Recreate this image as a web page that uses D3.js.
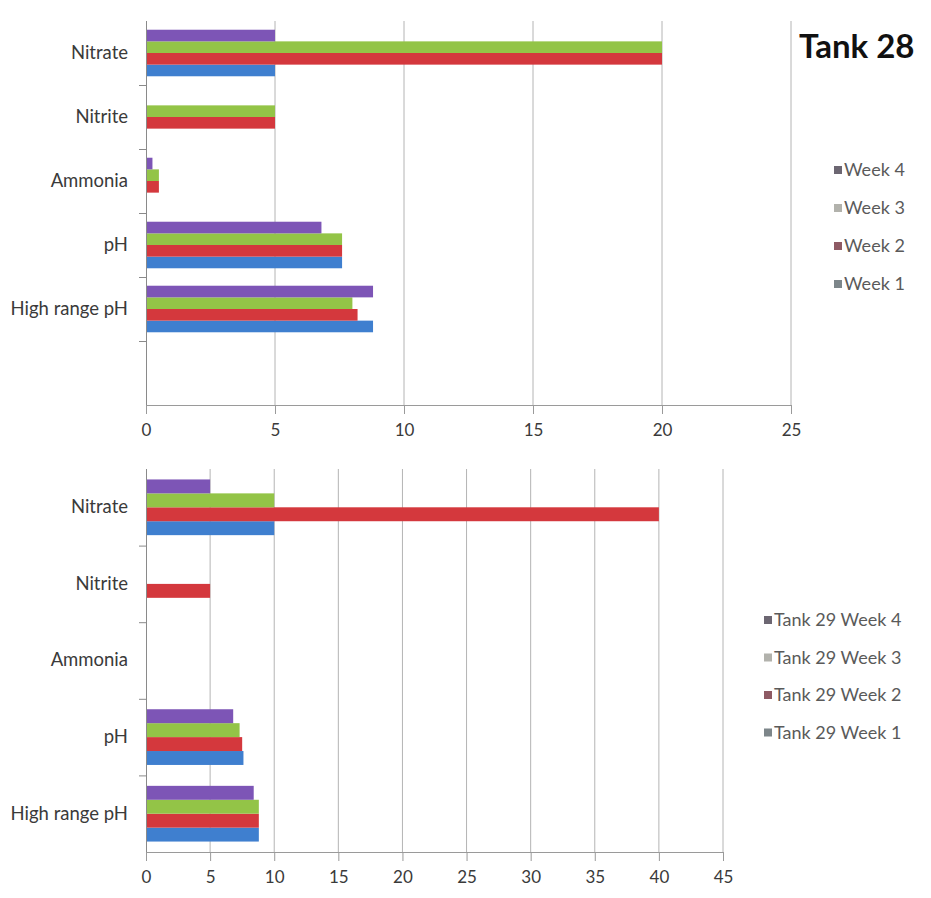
<!DOCTYPE html>
<html>
<head>
<meta charset="utf-8">
<script src="https://cdn.jsdelivr.net/npm/d3@7/dist/d3.min.js"></script>
<style>
  html, body { margin: 0; padding: 0; background: #ffffff; }
  svg { display: block; }
  text { font-family: Lato, "Open Sans", "DejaVu Sans", sans-serif; }
</style>
</head>
<body>
<svg id="chart" width="931" height="898"></svg>
<script>
// Water-test readings per tank, one array per weekly reading.
const parameters = ["Nitrate", "Nitrite", "Ammonia", "pH", "High range pH"];

const tank28Week1 = [5, 0, 0, 7.6, 8.8];
const tank28Week2 = [20, 5, 0.5, 7.6, 8.2];
const tank28Week3 = [20, 5, 0.5, 7.6, 8.0];
const tank28Week4 = [5, 0, 0.25, 6.8, 8.8];

const tank29Week1 = [10, 0, 0, 7.6, 8.8];
const tank29Week2 = [40, 5, 0, 7.5, 8.8];
const tank29Week3 = [10, 0, 0, 7.3, 8.8];
const tank29Week4 = [5, 0, 0, 6.8, 8.4];

const tank28Labels = ["Week 1", "Week 2", "Week 3", "Week 4"];
const tank29Labels = ["Tank 29 Week 1", "Tank 29 Week 2", "Tank 29 Week 3", "Tank 29 Week 4"];

const tank28Ticks = [0, 5, 10, 15, 20, 25];
const tank29Ticks = [0, 5, 10, 15, 20, 25, 30, 35, 40, 45];

const seriesColors = ["#3f7fcf", "#d4383d", "#93c447", "#7d55b6"];
const legendSwatches = ["#7d868a", "#8e5a64", "#b2b2ac", "#6c6672"];

const svg = d3.select("#chart");

function drawChart(opts) {
  const g = svg.append("g");
  const series = opts.labels.map((label, i) => ({ label, values: opts.values[i], color: seriesColors[i], swatch: legendSwatches[i] }));

  const x = d3.scaleLinear()
    .domain([0, opts.ticks[opts.ticks.length - 1]])
    .range([opts.left, opts.right]);

  const y = d3.scaleBand()
    .domain(opts.categories)
    .range([opts.top, opts.bottom])
    .padding(0);

  // Week 4 sits on top of each cluster, Week 1 at the bottom.
  const inner = d3.scaleBand()
    .domain(opts.labels.slice().reverse())
    .range([0, y.bandwidth()])
    .paddingInner(0)
    .paddingOuter(0.75);

  // Vertical gridlines
  g.append("g")
    .selectAll("line")
    .data(opts.ticks.slice(1))
    .join("line")
    .attr("x1", d => x(d)).attr("x2", d => x(d))
    .attr("y1", opts.top).attr("y2", opts.bottom)
    .attr("stroke", "#b4b4b4")
    .attr("stroke-width", 1);

  // Bars
  const rows = [];
  series.forEach(s => {
    parameters.forEach((p, j) => {
      rows.push({ category: p, series: s.label, value: s.values[j], color: s.color });
    });
  });
  g.append("g")
    .selectAll("rect")
    .data(rows.filter(r => r.value > 0))
    .join("rect")
    .attr("x", x(0))
    .attr("y", d => y(d.category) + inner(d.series))
    .attr("width", d => x(d.value) - x(0))
    .attr("height", inner.bandwidth())
    .attr("fill", d => d.color);

  // Value axis along the bottom
  const xAxis = d3.axisBottom(x)
    .tickValues(opts.ticks)
    .tickSize(9)
    .tickPadding(10)
    .tickFormat(d3.format("d"));
  const xg = g.append("g")
    .attr("transform", `translate(0,${opts.bottom})`)
    .call(xAxis);
  xg.select(".domain").attr("stroke", "#9a9a9a").attr("d", `M${opts.left},0.5H${opts.right}`);
  xg.selectAll(".tick line").attr("stroke", "#9a9a9a");
  xg.selectAll(".tick text")
    .attr("fill", "#3a3a3a")
    .style("font-size", "17px")
    .style("font-family", "Lato, sans-serif");

  // Category axis on the left
  const yAxis = d3.axisLeft(y).tickSize(0).tickPadding(18);
  const yg = g.append("g")
    .attr("transform", `translate(${opts.left},0)`)
    .call(yAxis);
  yg.select(".domain").attr("stroke", "#8a8a8a").attr("d", `M0.5,${opts.top}V${opts.bottom}`);
  yg.selectAll(".tick text")
    .attr("fill", "#3a3a3a")
    .style("font-size", "18.5px")
    .style("font-family", "Lato, sans-serif");

  // Tick marks between category bands
  g.append("g")
    .selectAll("line")
    .data(opts.categories.slice(1))
    .join("line")
    .attr("x1", opts.left - 7).attr("x2", opts.left)
    .attr("y1", d => y(d) + 0.5).attr("y2", d => y(d) + 0.5)
    .attr("stroke", "#8a8a8a");

  // Legend, Week 4 first
  const legend = g.append("g");
  series.slice().reverse().forEach((s, i) => {
    const ly = opts.legendTop + i * opts.legendStep;
    legend.append("rect")
      .attr("x", opts.legendX)
      .attr("y", ly - 4)
      .attr("width", 8).attr("height", 8)
      .attr("fill", s.swatch);
    legend.append("text")
      .attr("x", opts.legendX + 10)
      .attr("y", ly)
      .attr("dy", "0.35em")
      .attr("fill", "#5a5a5a")
      .style("font-size", "18px")
      .text(s.label);
  });

  if (opts.title) {
    g.append("text")
      .attr("x", opts.titleX)
      .attr("y", opts.titleY)
      .attr("fill", "#111")
      .style("font-size", "33px")
      .style("font-weight", "bold")
      .text(opts.title);
  }
}

drawChart({
  categories: parameters.concat([""]),
  values: [tank28Week1, tank28Week2, tank28Week3, tank28Week4],
  labels: tank28Labels,
  ticks: tank28Ticks,
  left: 146, right: 791, top: 21, bottom: 405,
  legendX: 834, legendTop: 170, legendStep: 38,
  title: "Tank 28", titleX: 799, titleY: 58
});

drawChart({
  categories: parameters,
  values: [tank29Week1, tank29Week2, tank29Week3, tank29Week4],
  labels: tank29Labels,
  ticks: tank29Ticks,
  left: 146, right: 723, top: 469, bottom: 852,
  legendX: 764, legendTop: 620, legendStep: 37.5
});
</script>
</body>
</html>
